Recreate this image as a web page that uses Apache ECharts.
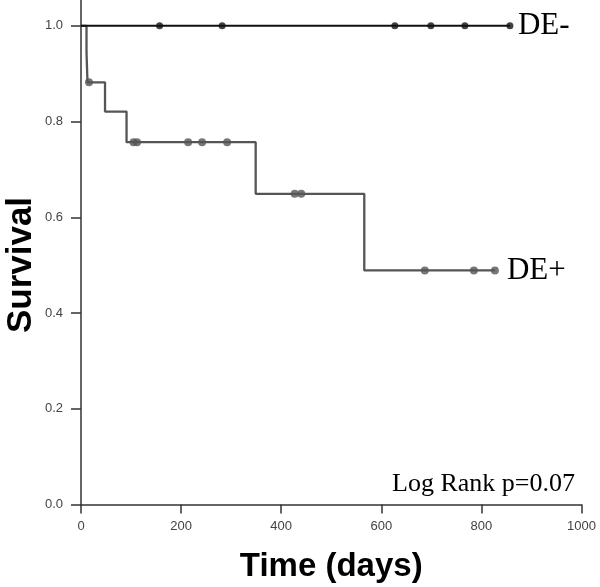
<!DOCTYPE html>
<html>
<head>
<meta charset="utf-8">
<script src="https://cdn.jsdelivr.net/npm/echarts@6/dist/echarts.min.js"></script>
<style>html,body{margin:0;padding:0;background:#fff}#c{width:600px;height:587px}</style>
</head>
<body>
<div id="c"></div>
<script>
// Kaplan–Meier step points (time in days, survival)
const dePosTimes = [0, 11, 13, 48, 91, 349, 566, 827];
const dePosSurv  = [1.0, 0.944, 0.882, 0.821, 0.757, 0.649, 0.489, 0.489];
const dePosCensored = [16, 105, 112, 214, 242, 292, 427, 440, 687, 785, 827];

const deNegTimes = [0, 857];
const deNegSurv  = [1.0, 1.0];
const deNegCensored = [157, 282, 627, 699, 767, 857];

const yTickValues = [0, 0.2, 0.4, 0.6, 0.8, 1.0];
const xTickValues = [0, 200, 400, 600, 800, 1000];

function survAt(times, surv, t) {
  let s = surv[0];
  for (let i = 0; i < times.length; i++) { if (times[i] <= t) s = surv[i]; }
  return s;
}
const posLine = dePosTimes.map((t, i) => [t, dePosSurv[i]]);
const negLine = deNegTimes.map((t, i) => [t, deNegSurv[i]]);
const posCens = dePosCensored.map(t => [t, survAt(dePosTimes, dePosSurv, t)]);
const negCens = deNegCensored.map(t => [t, survAt(deNegTimes, deNegSurv, t)]);

const chart = echarts.init(document.getElementById('c'), null, {renderer: 'canvas'});
const axisCol = '#333';
chart.setOption({
  animation: false,
  backgroundColor: '#fff',
  grid: {left: 81, right: 18.5, top: 0, bottom: 82.5, outerBoundsMode: 'none', containLabel: false},
  xAxis: {
    type: 'value', min: 0, max: 1000, interval: 200,
    name: 'Time (days)', nameLocation: 'middle', nameGap: 46,
    nameTextStyle: {fontFamily: 'Liberation Sans', fontWeight: 'bold', fontSize: 33, color: '#000'},
    axisLine: {show: true, lineStyle: {color: axisCol, width: 1.5}},
    axisTick: {show: true, length: 9, lineStyle: {color: axisCol, width: 1.5}},
    axisLabel: {fontFamily: 'Liberation Sans', fontSize: 13, color: '#444', margin: 15,
      customValues: xTickValues, formatter: v => String(v)},
    splitLine: {show: false}
  },
  yAxis: {
    type: 'value', min: 0, max: 1.054,
    axisLine: {show: true, lineStyle: {color: axisCol, width: 1.5}},
    axisTick: {show: true, length: 10, customValues: yTickValues, lineStyle: {color: axisCol, width: 1.5}},
    axisLabel: {fontFamily: 'Liberation Sans', fontSize: 13, color: '#444', margin: 18,
      customValues: yTickValues, formatter: v => v.toFixed(1)},
    splitLine: {show: false}
  },
  graphic: [{
    type: 'text', left: 392, top: 471,
    style: {text: 'Log Rank p=0.07', font: '26px "Liberation Serif"', fill: '#000'}
  }, {
    type: 'text', x: 21, y: 265, rotation: Math.PI / 2,
    style: {text: 'Survival', font: 'bold 35px "Liberation Sans"', fill: '#000',
      textAlign: 'center', textVerticalAlign: 'middle'}
  }],
  series: [
    {
      name: 'DE-', type: 'line', step: 'end', data: negLine, showSymbol: false,
      lineStyle: {color: '#111', width: 2}, z: 3,
      endLabel: {show: true, formatter: 'DE-', distance: 8,
        fontFamily: 'Liberation Serif', fontSize: 31, color: '#000'}
    },
    {
      name: 'DE+', type: 'line', step: 'end', data: posLine, showSymbol: false,
      lineStyle: {color: '#555', width: 2.3}, z: 2,
      endLabel: {show: true, formatter: 'DE+', distance: 12,
        fontFamily: 'Liberation Serif', fontSize: 31, color: '#000'}
    },
    {
      name: 'DE- censored', type: 'scatter', data: negCens, symbol: 'circle', symbolSize: 7,
      itemStyle: {color: '#111'}, z: 4
    },
    {
      name: 'DE+ censored', type: 'scatter', data: posCens, symbol: 'circle', symbolSize: 8,
      itemStyle: {color: '#555'}, z: 4
    }
  ]
});
</script>
</body>
</html>
